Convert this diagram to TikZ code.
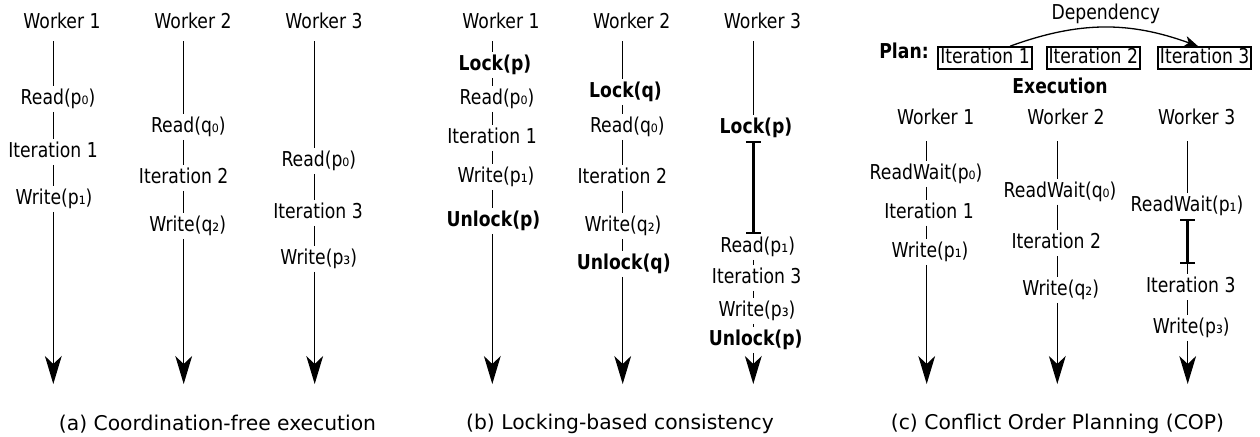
\documentclass[tikz,border=0pt]{standalone}
\usepackage{fontspec}
\setmainfont{DejaVu Sans}[FakeStretch=0.84]
\newfontfamily\capfont{DejaVu Sans}
\usetikzlibrary{arrows.meta}
\begin{document}
\begin{tikzpicture}[x=0.5pt,y=-0.5pt,
  lbl/.style={font=\fontsize{10.25}{12}\selectfont, inner xsep=0pt, inner ysep=1.1pt, text height=7.8pt, text depth=2.5pt},
  blbl/.style={lbl, font=\fontsize{10.25}{12}\selectfont\bfseries},
  seg/.style={line width=0.65pt},
  arr/.style={seg, -{Stealth[length=14pt,width=8.4pt,inset=4pt]}},
  blk/.style={line width=1.4pt, {Bar[width=7.5pt,line width=0.9pt]}-{Bar[width=7.5pt,line width=0.9pt]}},
  captxt/.style={font=\capfont\fontsize{10.15}{12}\selectfont, inner sep=0pt},
  planbox/.style={lbl, draw, line width=1pt, inner xsep=0.9pt, inner ysep=0.4pt},
  dep/.style={seg, -{Stealth[length=7pt,width=5.5pt,inset=2pt]}}
]
\useasboundingbox (0,0) rectangle (1260,436);

% ---------------- (a) ----------------
\node[lbl] (a1h) at (62,23) {Worker 1};
\node[lbl] (a2h) at (193,23) {Worker 2};
\node[lbl] (a3h) at (324,23) {Worker 3};
\coordinate (a1t) at (53.3,41);  \coordinate (a1e) at (53.3,384);
\coordinate (a2t) at (183.7,41); \coordinate (a2e) at (183.7,384);
\coordinate (a3t) at (314.7,41); \coordinate (a3e) at (314.7,384);

\node[lbl] (a1r) at (58,99) {Read(p₀)};
\node[lbl] (a1i) at (53,152) {Iteration 1};
\node[lbl] (a1w) at (54,199) {Write(p₁)};
\draw[seg] (a1t) -- (a1r.north -| a1t);
\draw[seg] (a1r.south -| a1t) -- (a1i.north -| a1t);
\draw[seg] (a1i.south -| a1t) -- (a1w.north -| a1t);
\draw[arr] (a1w.south -| a1t) -- (a1e);

\node[lbl] (a2r) at (188.3,127) {Read(q₀)};
\node[lbl] (a2i) at (183.7,178) {Iteration 2};
\node[lbl] (a2w) at (187.7,226) {Write(q₂)};
\draw[seg] (a2t) -- (a2r.north -| a2t);
\draw[seg] (a2r.south -| a2t) -- (a2i.north -| a2t);
\draw[seg] (a2i.south -| a2t) -- (a2w.north -| a2t);
\draw[arr] (a2w.south -| a2t) -- (a2e);

\node[lbl] (a3r) at (318.8,161) {Read(p₀)};
\node[lbl] (a3i) at (318,213) {Iteration 3};
\node[lbl] (a3w) at (318.7,259) {Write(p₃)};
\draw[seg] (a3t) -- (a3r.north -| a3t);
\draw[seg] (a3r.south -| a3t) -- (a3i.north -| a3t);
\draw[seg] (a3i.south -| a3t) -- (a3w.north -| a3t);
\draw[arr] (a3w.south -| a3t) -- (a3e);

\node[captxt] (acap) at (217.5,424) {(a) Coordination-free execution};

% ---------------- (b) ----------------
\node[lbl] (b1h) at (501,23) {Worker 1};
\node[lbl] (b2h) at (631.7,23) {Worker 2};
\node[lbl] (b3h) at (762.5,23) {Worker 3};
\coordinate (b1t) at (492.3,41); \coordinate (b1e) at (492.3,384);
\coordinate (b2t) at (622.7,41); \coordinate (b2e) at (622.7,384);
\coordinate (b3t) at (753.3,41); \coordinate (b3e) at (753.3,384);

\node[blbl] (b1l) at (495,65) {Lock(p)};
\node[lbl] (b1r) at (497,99) {Read(p₀)};
\node[lbl] (b1i) at (492,138) {Iteration 1};
\node[lbl] (b1w) at (496,177) {Write(p₁)};
\node[blbl] (b1u) at (493.5,221) {Unlock(p)};
\draw[seg] (b1t) -- (b1l.north -| b1t);
\draw[seg] (b1l.south -| b1t) -- (b1r.north -| b1t);
\draw[seg] (b1r.south -| b1t) -- (b1i.north -| b1t);
\draw[seg] (b1i.south -| b1t) -- (b1w.north -| b1t);
\draw[seg] (b1w.south -| b1t) -- (b1u.north -| b1t);
\draw[arr] (b1u.south -| b1t) -- (b1e);

\node[blbl] (b2l) at (625.5,92) {Lock(q)};
\node[lbl] (b2r) at (627.3,127) {Read(q₀)};
\node[lbl] (b2i) at (622.3,178) {Iteration 2};
\node[lbl] (b2w) at (623,226) {Write(q₂)};
\node[blbl] (b2u) at (623.8,264) {Unlock(q)};
\draw[seg] (b2t) -- (b2l.north -| b2t);
\draw[seg] (b2l.south -| b2t) -- (b2r.north -| b2t);
\draw[seg] (b2r.south -| b2t) -- (b2i.north -| b2t);
\draw[seg] (b2i.south -| b2t) -- (b2w.north -| b2t);
\draw[seg] (b2w.south -| b2t) -- (b2u.north -| b2t);
\draw[arr] (b2u.south -| b2t) -- (b2e);

\node[blbl] (b3l) at (756,128) {Lock(p)};
\node[lbl] (b3r) at (757.7,247) {Read(p₁)};
\node[lbl] (b3i) at (756.7,278) {Iteration 3};
\node[lbl] (b3w) at (757,311) {Write(p₃)};
\node[blbl] (b3u) at (755.7,340) {Unlock(p)};
\draw[seg] (b3t) -- (b3l.north -| b3t);
\draw[blk] (b3l.south -| b3t) -- (b3r.north -| b3t);
\draw[seg] (b3r.south -| b3t) -- (b3i.north -| b3t);
\draw[seg] (b3i.south -| b3t) -- (b3w.north -| b3t);
\draw[seg] (b3w.south -| b3t) -- (b3u.north -| b3t);
\draw[arr] (b3u.south -| b3t) -- (b3e);

\node[captxt] (bcap) at (620,424) {(b) Locking-based consistency};

% ---------------- (c) ----------------
\node[lbl] (cdep) at (1105.8,14) {Dependency};
\node[blbl] (cplan) at (904,52.7) {Plan:};
\node[planbox] (cb1) at (985,58.3) {Iteration 1};
\node[planbox] (cb2) at (1093.3,58.3) {Iteration 2};
\node[planbox] (cb3) at (1204.7,58.3) {Iteration 3};
\draw[dep] ([xshift=12.5pt]cb1.north) to[bend left=20] ([xshift=-3.3pt]cb3.north);
\node[blbl] (cexe) at (1060,88.3) {Execution};

\node[lbl] (c1h) at (935.7,119) {Worker 1};
\node[lbl] (c2h) at (1066,119) {Worker 2};
\node[lbl] (c3h) at (1196.7,119) {Worker 3};
\coordinate (c1t) at (926.7,141);  \coordinate (c1e) at (926.7,384);
\coordinate (c2t) at (1057.3,141); \coordinate (c2e) at (1057.3,384);
\coordinate (c3t) at (1187.7,141); \coordinate (c3e) at (1187.7,384);

\node[lbl] (c1r) at (926,174) {ReadWait(p₀)};
\node[lbl] (c1i) at (929,212.7) {Iteration 1};
\node[lbl] (c1w) at (930,252) {Write(p₁)};
\draw[seg] (c1t) -- (c1r.north -| c1t);
\draw[seg] (c1r.south -| c1t) -- (c1i.north -| c1t);
\draw[seg] (c1i.south -| c1t) -- (c1w.north -| c1t);
\draw[arr] (c1w.south -| c1t) -- (c1e);

\node[lbl] (c2r) at (1060,191.7) {ReadWait(q₀)};
\node[lbl] (c2i) at (1056.3,243.3) {Iteration 2};
\node[lbl] (c2w) at (1060.7,290) {Write(q₂)};
\draw[seg] (c2t) -- (c2r.north -| c2t);
\draw[seg] (c2r.south -| c2t) -- (c2i.north -| c2t);
\draw[seg] (c2i.south -| c2t) -- (c2w.north -| c2t);
\draw[arr] (c2w.south -| c2t) -- (c2e);

\node[lbl] (c3r) at (1187,206) {ReadWait(p₁)};
\coordinate (c3x) at (1187.7,264);
\node[lbl] (c3i) at (1190.8,287.3) {Iteration 3};
\node[lbl] (c3w) at (1191.3,328) {Write(p₃)};
\draw[seg] (c3t) -- (c3r.north -| c3t);
\draw[blk] (c3r.south -| c3t) -- (c3x);
\draw[seg] (c3x) -- (c3i.north -| c3t);
\draw[seg] (c3i.south -| c3t) -- (c3w.north -| c3t);
\draw[arr] (c3w.south -| c3t) -- (c3e);

\node[captxt] (ccap) at (1057.5,424) {(c) Conflict Order Planning (COP)};
\end{tikzpicture}
\end{document}
